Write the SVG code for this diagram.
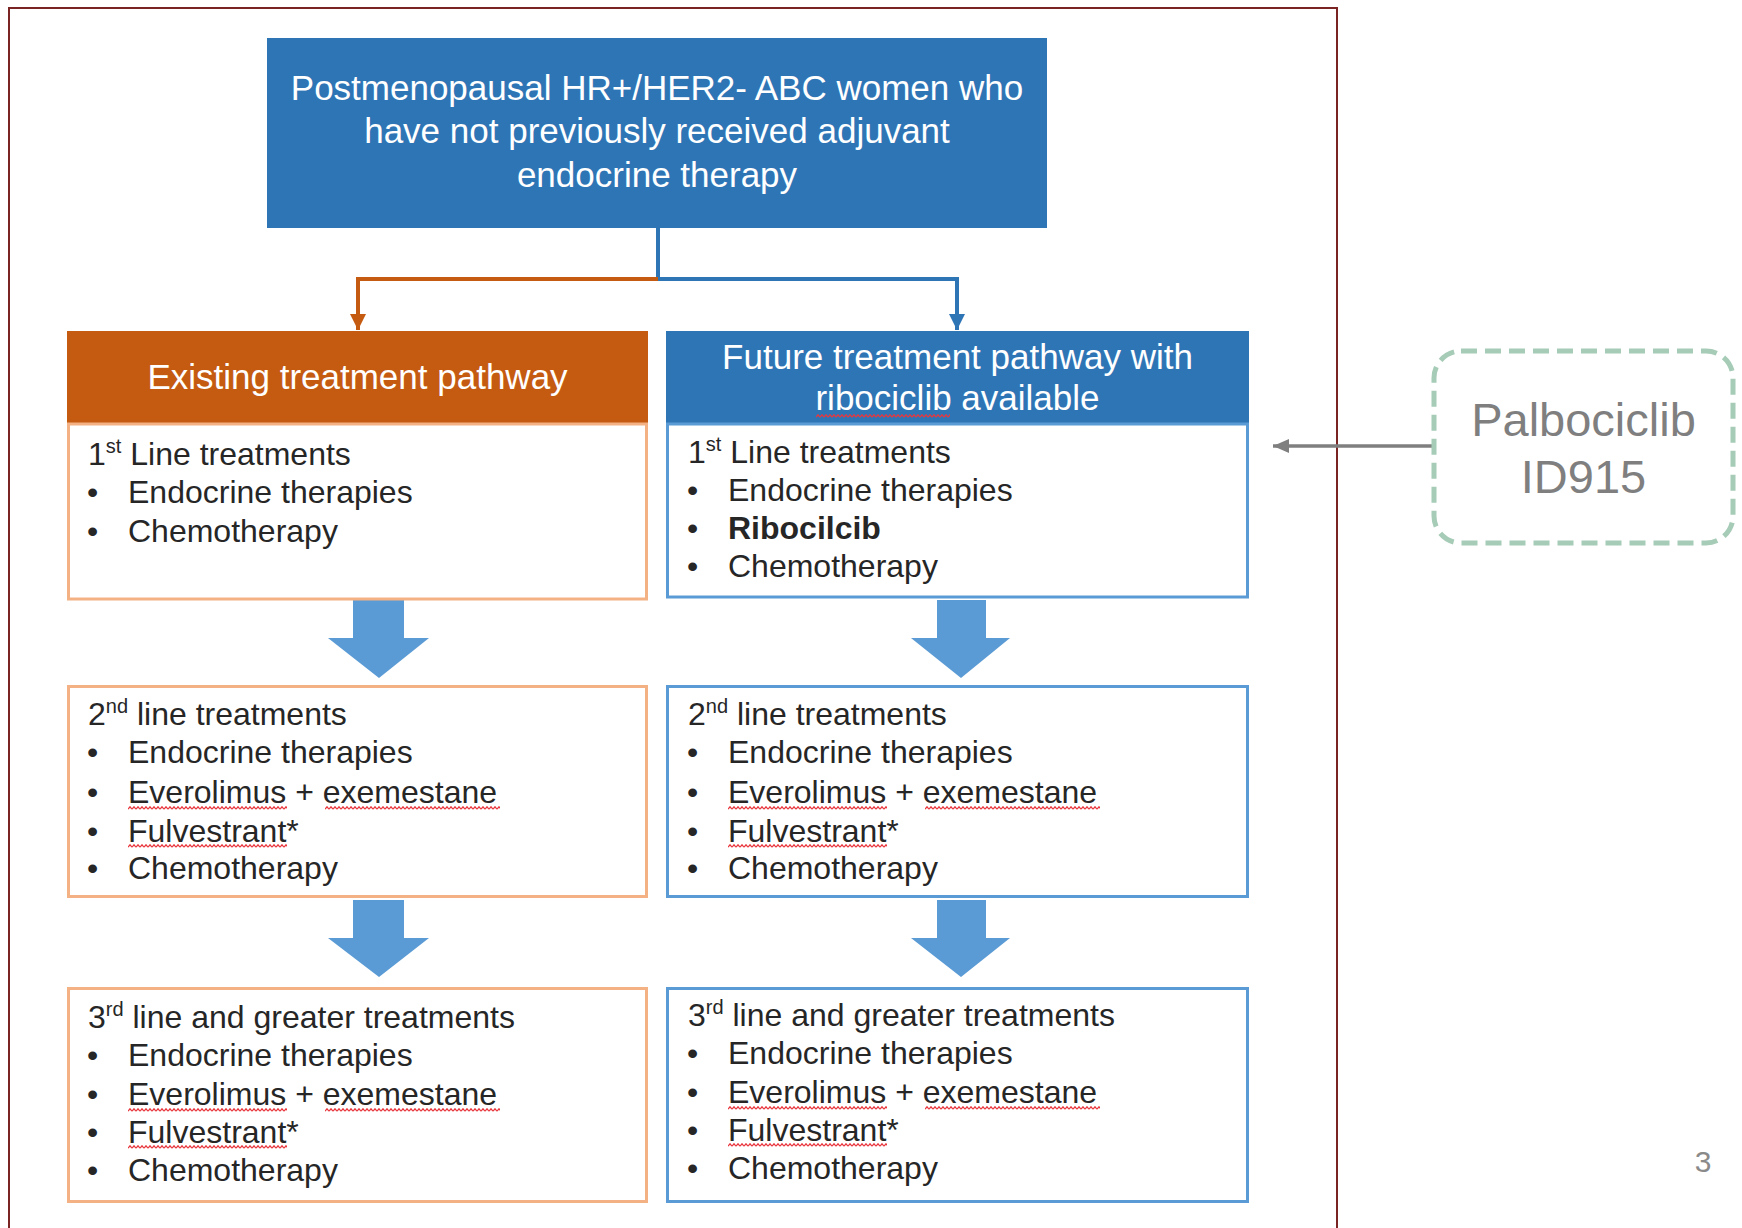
<svg xmlns="http://www.w3.org/2000/svg" width="1742" height="1228" viewBox="0 0 1742 1228">
<style>
text{font-family:"Liberation Sans",Arial,"Helvetica",sans-serif}
.body{font-size:32px;fill:#262626}
.sup{font-size:20px}
.hdr{font-size:35px;fill:#ffffff;text-anchor:middle}
.ob{fill:#ffffff;stroke:#F4B183;stroke-width:3}
.bb{fill:#ffffff;stroke:#5B9BD5;stroke-width:3}
.barrow{fill:#5B9BD5}
.wav{fill:url(#wavy)}
</style>
<defs>
<pattern id="wavy" x="0" y="0" width="4" height="4" patternUnits="userSpaceOnUse">
<path d="M0,3.2 L2,0.8 L4,3.2" fill="none" stroke="#E8363C" stroke-width="1.3"/>
</pattern>
<marker id="arrOrange" markerUnits="userSpaceOnUse" markerWidth="18" markerHeight="18" viewBox="0 0 18 18" refX="16" refY="9" orient="auto">
<path d="M0,1 L16,9 L0,17 Z" fill="#C55A11"/>
</marker>
<marker id="arrBlue" markerUnits="userSpaceOnUse" markerWidth="18" markerHeight="18" viewBox="0 0 18 18" refX="16" refY="9" orient="auto">
<path d="M0,1 L16,9 L0,17 Z" fill="#2E75B6"/>
</marker>
<marker id="arrGrey" markerUnits="userSpaceOnUse" markerWidth="18" markerHeight="18" viewBox="0 0 18 18" refX="16" refY="9" orient="auto">
<path d="M0,2 L16,9 L0,16 Z" fill="#7F7F7F"/>
</marker>
</defs>
<rect width="1742" height="1228" fill="#ffffff"/>
<path d="M9,1228 L9,8 L1337,8 L1337,1228" fill="none" stroke="#7B2424" stroke-width="2"/>

<g id="connectors">
<line x1="658" y1="228" x2="658" y2="279" stroke="#2E75B6" stroke-width="4"/>
<path d="M658,279 L358,279 L358,330" fill="none" stroke="#C55A11" stroke-width="4" marker-end="url(#arrOrange)"/>
<path d="M658,279 L957,279 L957,330" fill="none" stroke="#2E75B6" stroke-width="4" marker-end="url(#arrBlue)"/>
<polygon class="barrow" points="353,600 404,600 404,638 429,638 379,678 328,638 353,638"/>
<polygon class="barrow" points="937,600 986,600 986,638 1010,638 961,678 911,638 937,638"/>
<polygon class="barrow" points="353,900 404,900 404,938 429,938 379,977 328,938 353,938"/>
<polygon class="barrow" points="937,900 986,900 986,938 1010,938 961,977 911,938 937,938"/>
<line x1="1434" y1="446" x2="1273" y2="446" stroke="#7F7F7F" stroke-width="3.5" marker-end="url(#arrGrey)"/>
</g>

<g id="top">
<rect x="267" y="38" width="780" height="190" fill="#2E75B6"/>
<text class="hdr" x="657" y="100">Postmenopausal HR+/HER2- ABC women who</text>
<text class="hdr" x="657" y="143">have not previously received adjuvant</text>
<text class="hdr" x="657" y="187">endocrine therapy</text>
</g>

<g id="existing-header">
<rect x="67" y="331" width="581" height="93" fill="#C55A11"/>
<text class="hdr" x="357.5" y="389">Existing treatment pathway</text>
</g>

<g id="future-header">
<rect x="666" y="331" width="583" height="93" fill="#2E75B6"/>
<text class="hdr" x="957.5" y="369">Future treatment pathway with</text>
<text class="hdr" x="957.5" y="410">ribociclib available</text>
<rect class="wav" transform="translate(816,414)" width="134" height="4"/>
</g>

<g id="existing-1st">
<rect class="ob" x="68.5" y="424" width="578" height="175"/>
<text class="body" x="88" y="465"><tspan>1</tspan><tspan class="sup" dy="-12">st</tspan><tspan dy="12"> Line treatments</tspan></text>
<text class="body" x="87" y="503">•</text><text class="body" x="128" y="503">Endocrine therapies</text>
<text class="body" x="87" y="542">•</text><text class="body" x="128" y="542">Chemotherapy</text>
</g>

<g id="future-1st">
<rect class="bb" x="667.5" y="424" width="580" height="173"/>
<text class="body" x="688" y="463"><tspan>1</tspan><tspan class="sup" dy="-12">st</tspan><tspan dy="12"> Line treatments</tspan></text>
<text class="body" x="687" y="501">•</text><text class="body" x="728" y="501">Endocrine therapies</text>
<text class="body" x="687" y="539">•</text><text class="body" x="728" y="539" font-weight="bold">Ribocilcib</text>
<text class="body" x="687" y="577">•</text><text class="body" x="728" y="577">Chemotherapy</text>
</g>

<g id="existing-2nd">
<rect class="ob" x="68.5" y="686.5" width="578" height="210"/>
<text class="body" x="88" y="725"><tspan>2</tspan><tspan class="sup" dy="-12">nd</tspan><tspan dy="12"> line treatments</tspan></text>
<text class="body" x="87" y="763">•</text><text class="body" x="128" y="763">Endocrine therapies</text>
<text class="body" x="87" y="803">•</text><text class="body" x="128" y="803">Everolimus + exemestane</text>
<text class="body" x="87" y="842">•</text><text class="body" x="128" y="842">Fulvestrant*</text>
<text class="body" x="87" y="879">•</text><text class="body" x="128" y="879">Chemotherapy</text>
<rect class="wav" transform="translate(128,806)" width="159" height="4"/>
<rect class="wav" transform="translate(325,806)" width="175" height="4"/>
<rect class="wav" transform="translate(128,844)" width="159" height="4"/>
</g>

<g id="future-2nd">
<rect class="bb" x="667.5" y="686.5" width="580" height="210"/>
<text class="body" x="688" y="725"><tspan>2</tspan><tspan class="sup" dy="-12">nd</tspan><tspan dy="12"> line treatments</tspan></text>
<text class="body" x="687" y="763">•</text><text class="body" x="728" y="763">Endocrine therapies</text>
<text class="body" x="687" y="803">•</text><text class="body" x="728" y="803">Everolimus + exemestane</text>
<text class="body" x="687" y="842">•</text><text class="body" x="728" y="842">Fulvestrant*</text>
<text class="body" x="687" y="879">•</text><text class="body" x="728" y="879">Chemotherapy</text>
<rect class="wav" transform="translate(728,806)" width="159" height="4"/>
<rect class="wav" transform="translate(925,806)" width="175" height="4"/>
<rect class="wav" transform="translate(728,844)" width="159" height="4"/>
</g>

<g id="existing-3rd">
<rect class="ob" x="68.5" y="988.5" width="578" height="213"/>
<text class="body" x="88" y="1028"><tspan>3</tspan><tspan class="sup" dy="-12">rd</tspan><tspan dy="12"> line and greater treatments</tspan></text>
<text class="body" x="87" y="1066">•</text><text class="body" x="128" y="1066">Endocrine therapies</text>
<text class="body" x="87" y="1105">•</text><text class="body" x="128" y="1105">Everolimus + exemestane</text>
<text class="body" x="87" y="1143">•</text><text class="body" x="128" y="1143">Fulvestrant*</text>
<text class="body" x="87" y="1181">•</text><text class="body" x="128" y="1181">Chemotherapy</text>
<rect class="wav" transform="translate(128,1108)" width="159" height="4"/>
<rect class="wav" transform="translate(325,1108)" width="175" height="4"/>
<rect class="wav" transform="translate(128,1145)" width="159" height="4"/>
</g>

<g id="future-3rd">
<rect class="bb" x="667.5" y="988.5" width="580" height="213"/>
<text class="body" x="688" y="1026"><tspan>3</tspan><tspan class="sup" dy="-12">rd</tspan><tspan dy="12"> line and greater treatments</tspan></text>
<text class="body" x="687" y="1064">•</text><text class="body" x="728" y="1064">Endocrine therapies</text>
<text class="body" x="687" y="1103">•</text><text class="body" x="728" y="1103">Everolimus + exemestane</text>
<text class="body" x="687" y="1141">•</text><text class="body" x="728" y="1141">Fulvestrant*</text>
<text class="body" x="687" y="1179">•</text><text class="body" x="728" y="1179">Chemotherapy</text>
<rect class="wav" transform="translate(728,1106)" width="159" height="4"/>
<rect class="wav" transform="translate(925,1106)" width="175" height="4"/>
<rect class="wav" transform="translate(728,1143)" width="159" height="4"/>
</g>

<g id="palbociclib">
<rect x="1434" y="351" width="299" height="192" rx="27" ry="27" fill="none" stroke="#A6CBB6" stroke-width="5" stroke-dasharray="16 8"/>
<text x="1583.5" y="436" font-size="47" fill="#7F7F7F" text-anchor="middle">Palbociclib</text>
<text x="1583.5" y="493" font-size="47" fill="#7F7F7F" text-anchor="middle">ID915</text>
</g>

<text x="1703" y="1172" font-size="30" fill="#8A8A8A" text-anchor="middle">3</text>
</svg>
